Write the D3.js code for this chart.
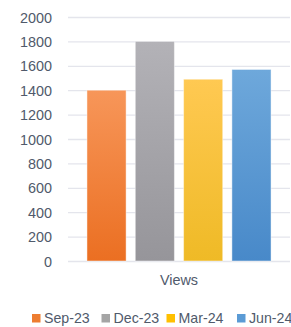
<!DOCTYPE html>
<html>
<head>
<meta charset="utf-8">
<script src="https://cdn.jsdelivr.net/npm/d3@7"></script>
<style>
  html, body { margin: 0; padding: 0; background: #fff; }
  svg { display: block; }
</style>
</head>
<body>
<svg id="chart" width="291" height="327"></svg>
<script>
const categories = ["Views"];
const seriesNames = ["Sep-23", "Dec-23", "Mar-24", "Jun-24"];
const seriesValues = [1400, 1800, 1490, 1570];
const yTicks = [0, 200, 400, 600, 800, 1000, 1200, 1400, 1600, 1800, 2000];
const topColors = ["#F79659", "#B3B2B7", "#FFC952", "#6EA8DB"];
const bottomColors = ["#EB6F22", "#96959A", "#EFBA26", "#4889C9"];
const legendColors = ["#ED7D31", "#A5A5A5", "#FFC000", "#5B9BD5"];

const svg = d3.select("#chart");
const textColor = "#505a6b";
const font = "'Liberation Sans', Arial, sans-serif";

const y = d3.scaleLinear().domain([0, 2000]).range([261, 17]);
const x0 = d3.scaleBand().domain(categories).range([68, 290]).paddingInner(0).paddingOuter(0.103);
const x1 = d3.scaleBand().domain(seriesNames).range([0, x0.bandwidth()]).paddingInner(0.19).paddingOuter(0);

const defs = svg.append("defs");
seriesNames.forEach((s, i) => {
  const g = defs.append("linearGradient").attr("id", "g" + i)
    .attr("x1", 0).attr("y1", 0).attr("x2", 0).attr("y2", 1);
  g.append("stop").attr("offset", "0%").attr("stop-color", topColors[i]);
  g.append("stop").attr("offset", "100%").attr("stop-color", bottomColors[i]);
});

// gridlines
const yAxis = d3.axisLeft(y).tickValues(yTicks).tickFormat(d3.format("d"))
  .tickSize(-(290 - 68)).tickPadding(16);
const gy = svg.append("g").attr("transform", "translate(68,0)").call(yAxis);
gy.select(".domain").remove();
gy.selectAll(".tick line").attr("stroke", "#E4E5EC").attr("stroke-width", 1.3);
gy.selectAll(".tick text")
  .attr("fill", textColor)
  .style("font-family", font)
  .style("font-size", "14.4px")
  .attr("dy", "0.36em");

// bars
const data = seriesNames.map((s, i) => ({ cat: categories[0], name: s, value: seriesValues[i], i }));
svg.append("g").selectAll("rect").data(data).join("rect")
  .attr("x", d => x0(d.cat) + x1(d.name))
  .attr("width", x1.bandwidth())
  .attr("y", d => y(d.value))
  .attr("height", d => y(0) - y(d.value))
  .attr("fill", d => "url(#g" + d.i + ")")
  .attr("stroke", "rgba(255,255,255,0.45)")
  .attr("stroke-width", 1);

// category label
svg.append("g").selectAll("text").data(categories).join("text")
  .attr("x", d => x0(d) + x0.bandwidth() / 2)
  .attr("y", 284.5)
  .attr("text-anchor", "middle")
  .attr("fill", textColor)
  .style("font-family", font)
  .style("font-size", "14.4px")
  .text(d => d);

// legend
const legendX = [32, 101.5, 166.5, 237];
const lg = svg.append("g").selectAll("g").data(seriesNames).join("g")
  .attr("transform", (d, i) => `translate(${legendX[i]},314)`);
lg.append("rect").attr("width", 8.5).attr("height", 8.5).attr("fill", (d, i) => legendColors[i]);
lg.append("text").attr("x", 12).attr("y", 9.3)
  .attr("fill", textColor)
  .style("font-family", font)
  .style("font-size", "14.2px")
  .text(d => d);
</script>
</body>
</html>
